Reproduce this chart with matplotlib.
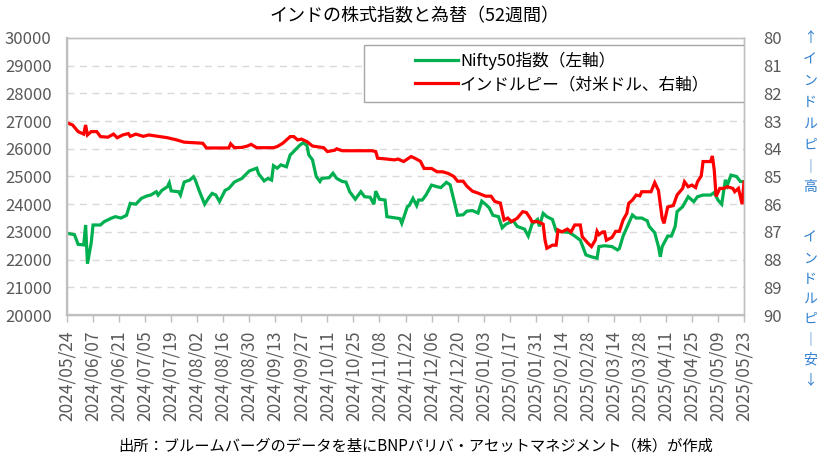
import matplotlib
matplotlib.use("Agg")
import matplotlib.pyplot as plt
import matplotlib.dates as mdates
from matplotlib.patches import Rectangle
import pandas as pd

plt.rcParams['font.family'] = ['Noto Sans CJK JP', 'DejaVu Sans']

# Nifty50 index (left axis)
nifty_dates = [
    "2024-05-24", "2024-05-28", "2024-05-30", "2024-06-02", "2024-06-03", "2024-06-04",
    "2024-06-06", "2024-06-07", "2024-06-11", "2024-06-13", "2024-06-17", "2024-06-19",
    "2024-06-22", "2024-06-25", "2024-06-27", "2024-06-30", "2024-07-03", "2024-07-06",
    "2024-07-08", "2024-07-11", "2024-07-12", "2024-07-14", "2024-07-17", "2024-07-18",
    "2024-07-19", "2024-07-23", "2024-07-24", "2024-07-26", "2024-07-29", "2024-07-31",
    "2024-08-01", "2024-08-03", "2024-08-06", "2024-08-08", "2024-08-10", "2024-08-12",
    "2024-08-14", "2024-08-17", "2024-08-19", "2024-08-22", "2024-08-26", "2024-08-30",
    "2024-09-03", "2024-09-04", "2024-09-07", "2024-09-09", "2024-09-11", "2024-09-12",
    "2024-09-14", "2024-09-16", "2024-09-19", "2024-09-21", "2024-09-22", "2024-09-26",
    "2024-09-28", "2024-09-30", "2024-10-01", "2024-10-03", "2024-10-05", "2024-10-07",
    "2024-10-08", "2024-10-12", "2024-10-14", "2024-10-16", "2024-10-19", "2024-10-21",
    "2024-10-23", "2024-10-26", "2024-10-27", "2024-10-29", "2024-10-31", "2024-11-03",
    "2024-11-05", "2024-11-06", "2024-11-08", "2024-11-11", "2024-11-12", "2024-11-15",
    "2024-11-19", "2024-11-20", "2024-11-23", "2024-11-24", "2024-11-26", "2024-11-28",
    "2024-11-29", "2024-12-01", "2024-12-03", "2024-12-06", "2024-12-09", "2024-12-11",
    "2024-12-14", "2024-12-16", "2024-12-18", "2024-12-20", "2024-12-23", "2024-12-25",
    "2024-12-28", "2024-12-31", "2025-01-02", "2025-01-04", "2025-01-06", "2025-01-08",
    "2025-01-11", "2025-01-13", "2025-01-15", "2025-01-19", "2025-01-21", "2025-01-23",
    "2025-01-25", "2025-01-27", "2025-01-29", "2025-02-01", "2025-02-02", "2025-02-04",
    "2025-02-06", "2025-02-09", "2025-02-11", "2025-02-15", "2025-02-18", "2025-02-21",
    "2025-02-24", "2025-02-27", "2025-03-02", "2025-03-05", "2025-03-06", "2025-03-09",
    "2025-03-13", "2025-03-16", "2025-03-17", "2025-03-19", "2025-03-22", "2025-03-24",
    "2025-03-26", "2025-03-29", "2025-04-01", "2025-04-02", "2025-04-05", "2025-04-07",
    "2025-04-08", "2025-04-09", "2025-04-12", "2025-04-14", "2025-04-16", "2025-04-17",
    "2025-04-20", "2025-04-23", "2025-04-26", "2025-04-28", "2025-05-01", "2025-05-05",
    "2025-05-07", "2025-05-09", "2025-05-11", "2025-05-13", "2025-05-14", "2025-05-16",
    "2025-05-19", "2025-05-21", "2025-05-23",
]
nifty_vals = [
    22950, 22900, 22550, 22530, 23250, 21850,
    22600, 23250, 23250, 23370, 23500, 23550,
    23500, 23600, 24030, 24000, 24210, 24300,
    24330, 24450, 24330, 24500, 24630, 24770,
    24480, 24450, 24330, 24800, 24870, 24990,
    24870, 24500, 24000, 24210, 24390, 24330,
    24100, 24500, 24570, 24800, 24930, 25200,
    25300, 25100, 24840, 24930, 24870, 25390,
    25300, 25420, 25350, 25780, 25840, 26120,
    26220, 26120, 25780, 25600, 25000, 24820,
    24930, 24960, 25120, 24930, 24820, 24800,
    24450, 24180, 24270, 24450, 24270, 24250,
    24000, 24470, 24180, 24150, 23550, 23520,
    23480, 23310, 23910, 23950, 24210, 23950,
    24150, 24150, 24330, 24690, 24630, 24600,
    24790, 24700, 24150, 23600, 23620, 23750,
    23770, 23680, 24110, 24000, 23870, 23600,
    23550, 23150, 23280, 23400, 23200, 23150,
    23100, 22850, 23280, 23450, 23200, 23670,
    23550, 23450, 23030, 23000, 22980, 22850,
    22700, 22170, 22100, 22050, 22470, 22500,
    22470, 22350, 22400, 22850, 23310, 23610,
    23500, 23500, 23400, 23200, 22970, 22470,
    22100, 22470, 22850, 22850, 23200, 23730,
    23910, 24270, 24090, 24270, 24330, 24330,
    24420, 24150, 24000, 24880, 24680, 25050,
    25000, 24820, 24820,
]

# Indian rupee per USD (right axis, inverted)
inr_dates = [
    "2024-05-24", "2024-05-27", "2024-05-30", "2024-06-02", "2024-06-03", "2024-06-04",
    "2024-06-06", "2024-06-09", "2024-06-11", "2024-06-15", "2024-06-18", "2024-06-20",
    "2024-06-23", "2024-06-26", "2024-06-27", "2024-06-30", "2024-07-04", "2024-07-07",
    "2024-07-12", "2024-07-15", "2024-07-17", "2024-07-22", "2024-07-26", "2024-08-05",
    "2024-08-07", "2024-08-19", "2024-08-20", "2024-08-22", "2024-08-26", "2024-08-29",
    "2024-08-31", "2024-09-03", "2024-09-12", "2024-09-14", "2024-09-17", "2024-09-19",
    "2024-09-21", "2024-09-23", "2024-09-25", "2024-09-27", "2024-09-30", "2024-10-03",
    "2024-10-09", "2024-10-11", "2024-10-15", "2024-10-16", "2024-10-19", "2024-11-04",
    "2024-11-06", "2024-11-07", "2024-11-12", "2024-11-16", "2024-11-18", "2024-11-21",
    "2024-11-25", "2024-11-27", "2024-11-30", "2024-12-02", "2024-12-06", "2024-12-09",
    "2024-12-12", "2024-12-15", "2024-12-18", "2024-12-20", "2024-12-23", "2024-12-25",
    "2024-12-28", "2024-12-31", "2025-01-04", "2025-01-07", "2025-01-09", "2025-01-12",
    "2025-01-13", "2025-01-14", "2025-01-16", "2025-01-18", "2025-01-21", "2025-01-24",
    "2025-01-26", "2025-01-28", "2025-01-29", "2025-02-01", "2025-02-04", "2025-02-05",
    "2025-02-06", "2025-02-09", "2025-02-11", "2025-02-12", "2025-02-14", "2025-02-17",
    "2025-02-19", "2025-02-21", "2025-02-24", "2025-02-25", "2025-02-28", "2025-03-02",
    "2025-03-04", "2025-03-05", "2025-03-06", "2025-03-08", "2025-03-09", "2025-03-10",
    "2025-03-13", "2025-03-15", "2025-03-17", "2025-03-19", "2025-03-21", "2025-03-22",
    "2025-03-24", "2025-03-26", "2025-03-28", "2025-03-29", "2025-04-03", "2025-04-05",
    "2025-04-07", "2025-04-08", "2025-04-09", "2025-04-10", "2025-04-12", "2025-04-15",
    "2025-04-17", "2025-04-20", "2025-04-21", "2025-04-23", "2025-04-25", "2025-04-27",
    "2025-04-28", "2025-04-30", "2025-05-01", "2025-05-05", "2025-05-06", "2025-05-07",
    "2025-05-08", "2025-05-10", "2025-05-12", "2025-05-14", "2025-05-17", "2025-05-18",
    "2025-05-20", "2025-05-22", "2025-05-23",
]
inr_vals = [
    83.06, 83.14, 83.38, 83.47, 83.14, 83.50,
    83.38, 83.38, 83.56, 83.58, 83.47, 83.60,
    83.50, 83.45, 83.55, 83.47, 83.55, 83.50,
    83.55, 83.58, 83.60, 83.68, 83.76, 83.80,
    83.97, 83.97, 83.82, 83.96, 83.95, 83.90,
    83.84, 83.96, 83.96, 83.92, 83.80, 83.68,
    83.56, 83.56, 83.68, 83.65, 83.74, 83.90,
    83.96, 84.10, 84.05, 84.00, 84.07, 84.07,
    84.10, 84.34, 84.37, 84.40, 84.37, 84.46,
    84.28, 84.34, 84.45, 84.71, 84.71, 84.83,
    84.83, 84.89, 85.00, 85.17, 85.17, 85.35,
    85.53, 85.60, 85.71, 85.71, 85.90, 85.96,
    86.27, 86.57, 86.50, 86.63, 86.51, 86.27,
    86.30, 86.50, 86.63, 86.63, 86.72, 87.29,
    87.59, 87.48, 87.48, 86.93, 87.00, 86.90,
    87.00, 86.75, 86.75, 87.17, 87.40, 87.53,
    87.30, 86.98, 87.10, 87.00, 87.00, 87.30,
    87.20, 86.98, 86.98, 86.57, 86.33, 85.97,
    85.85, 85.67, 85.70, 85.55, 85.55, 85.22,
    85.50, 86.00, 86.51, 86.69, 86.10, 86.05,
    85.67, 85.43, 85.19, 85.37, 85.31, 85.40,
    85.19, 84.98, 84.46, 84.46, 84.26, 84.77,
    85.72, 85.43, 85.43, 85.37, 85.43, 85.55,
    85.43, 86.00, 85.20,
]

tick_dates = pd.date_range("2024-05-24", "2025-05-23", freq="14D")

title = "インドの株式指数と為替（52週間）"
source = "出所：ブルームバーグのデータを基にBNPパリバ・アセットマネジメント（株）が作成"
label_nifty = "Nifty50指数（左軸）"
label_inr = "インドルピー（対米ドル、右軸）"
side_top = ["↑", "イ", "ン", "ド", "ル", "ピ", "｜", "高"]
side_bottom = ["イ", "ン", "ド", "ル", "ピ", "｜", "安", "↓"]

W, H = 829, 474
fig = plt.figure(figsize=(W / 100, H / 100), dpi=100)
ax = fig.add_axes([67 / W, 1 - 315 / H, 677 / W, 277 / H])
ax2 = ax.twinx()

nd = pd.to_datetime(nifty_dates)
idt = pd.to_datetime(inr_dates)
l1, = ax.plot(nd, nifty_vals, color="#00B050", lw=2.3, solid_joinstyle="miter", label=label_nifty)
l2, = ax2.plot(idt, inr_vals, color="#FF0000", lw=2.3, solid_joinstyle="miter", label=label_inr)

ax.set_ylim(20000, 30000)
ax.set_yticks(range(20000, 30001, 1000))
ax2.set_ylim(90, 80)
ax2.set_yticks(range(80, 91))
ax.set_xlim(pd.Timestamp("2024-05-24"), pd.Timestamp("2025-05-23"))
ax.set_xticks(tick_dates)
ax.xaxis.set_major_formatter(mdates.DateFormatter("%Y/%m/%d"))

for v in range(21000, 30000, 1000):
    ax.axhline(v, color="#D9D9D9", lw=1, ls=(0, (5, 4)), zorder=0)

ax.tick_params(axis="y", length=0, pad=11, labelsize=12, labelcolor="#595959")
ax2.tick_params(axis="y", length=0, pad=14, labelsize=12, labelcolor="#595959")
ax.tick_params(axis="x", length=5, width=1, color="#BFBFBF", pad=6,
               labelsize=12.5, labelcolor="#595959", labelrotation=90)

for a in (ax, ax2):
    for s in a.spines.values():
        s.set_color("#BFBFBF")
        s.set_linewidth(1)
ax.spines["left"].set_linewidth(1.6)
ax.spines["bottom"].set_linewidth(1.6)

# legend box
box = Rectangle((297 / 677, (315 - 102) / 277), 380 / 677, 57 / 277, transform=ax2.transAxes,
                facecolor="white", edgecolor="#A6A6A6", lw=1, zorder=5)
ax2.add_patch(box)
leg = ax2.legend(handles=[l1, l2], loc="upper left", bbox_to_anchor=(348 / 677, (315 - 52) / 277),
                 frameon=False, fontsize=12, handlelength=2.6, handletextpad=0.1,
                 labelspacing=0.35, borderpad=0, borderaxespad=0)
leg.set_zorder(6)

fig.text(0.5, 1 - 16 / H, title, ha="center", va="center", fontsize=13)
fig.text(416 / W, 1 - 446 / H, source, ha="center", va="center", fontsize=11)

for i, ch in enumerate(side_top):
    fig.text(810 / W, 1 - (38 + i * 21.3) / H, ch, ha="center", va="center",
             fontsize=10, color="#2F80D0")
for i, ch in enumerate(side_bottom):
    fig.text(810 / W, 1 - (238 + i * 20.3) / H, ch, ha="center", va="center",
             fontsize=10, color="#2F80D0")

fig.savefig("out.png", dpi=100)
